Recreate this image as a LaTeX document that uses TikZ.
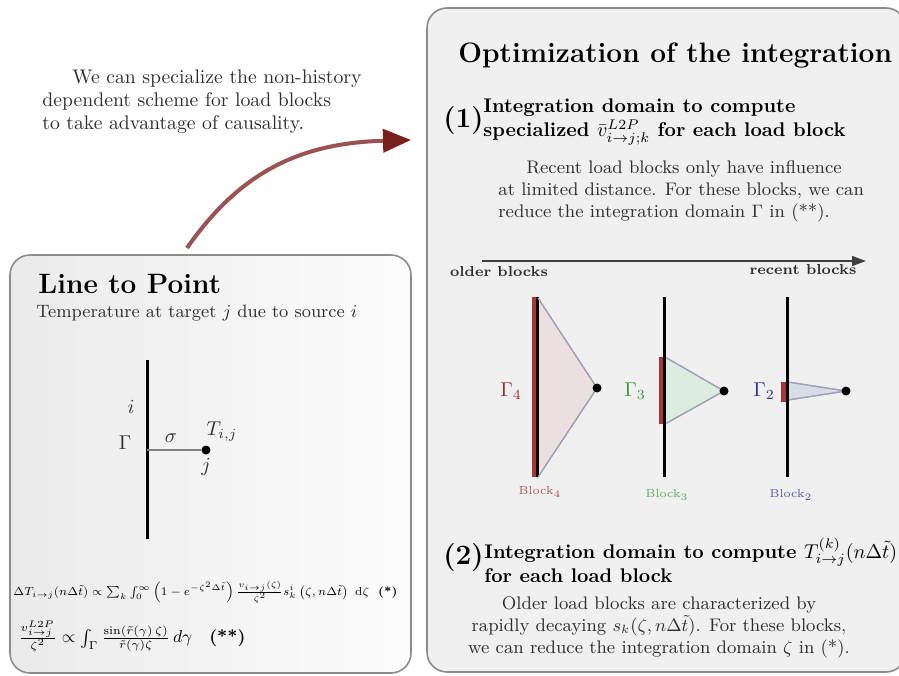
\documentclass[tikz,border=0pt]{standalone}
\usepackage{amsmath}
\usepackage{graphicx}
\usetikzlibrary{arrows.meta}
\definecolor{txt}{HTML}{2E2E2E}
\definecolor{boxline}{HTML}{8C8C8C}
\definecolor{rboxfill}{HTML}{F0F0F0}
\definecolor{arrline}{HTML}{9A5252}
\definecolor{arrhead}{HTML}{7A1E1E}
\definecolor{redbar}{HTML}{A83434}
\definecolor{gred}{HTML}{A03030}
\definecolor{ggreen}{HTML}{3A9A3A}
\definecolor{gblue}{HTML}{30309A}
\definecolor{lred}{HTML}{B05555}
\definecolor{lgreen}{HTML}{55B055}
\definecolor{lblue}{HTML}{5555B0}
\definecolor{tpink}{HTML}{EBDFDF}
\definecolor{tgreen}{HTML}{DCECDF}
\definecolor{tblue}{HTML}{D6DDE6}
\definecolor{tedge}{HTML}{A0A0B8}
\begin{document}
\begin{tikzpicture}[x=0.5pt,y=-0.5pt,
  panel/.style={draw=boxline, line width=0.8pt, rounded corners=10pt},
  bodytxt/.style={text=txt, font=\fontsize{9.1}{11}\selectfont, inner sep=0pt},
  bigbold/.style={font=\fontsize{14}{16}\selectfont\bfseries, inner sep=0pt},
  secbold/.style={font=\fontsize{9.9}{12}\selectfont\bfseries, inner sep=0pt},
  srcline/.style={line width=1.5pt, black},
  bar/.style={fill=redbar, draw=none},
  tri/.style={draw=tedge, line width=0.6pt},
  tgt/.style={circle, fill=black, inner sep=0pt, minimum size=4.5pt},
  lbl/.style={inner sep=0pt},
  gam/.style={inner sep=0pt, font=\fontsize{9.6}{11}\selectfont},
  blk/.style={inner sep=0pt, font=\fontsize{5.8}{7}\selectfont},
  timelbl/.style={inner sep=0pt, text=txt, font=\fontsize{7.2}{9}\selectfont\bfseries}
]
\useasboundingbox (0,0) rectangle (899,675);
\fill[white] (0,0) rectangle (899,675);

% panels
\draw[panel, left color=black!8, right color=black!1] (10,255) rectangle (411,673);
\draw[panel, fill=rboxfill] (427,8) rectangle (906,672);

% top-left text
\node[bodytxt, anchor=north west, align=left, font=\fontsize{9.85}{11.5}\selectfont] (intro) at (42,69)
  {\hspace*{15pt}We can specialize the non-history\\dependent scheme for load blocks\\to take advantage of causality.};

% curved arrow
\coordinate (arrS) at (187,248);
\coordinate (arrE) at (411,140);
\draw[arrline, line width=2pt, -{Triangle[length=14pt,width=11.5pt,color=arrhead]}]
  (arrS) .. controls (240,172) and (300,143) .. (arrE);

% ---------------- Left panel ----------------
\node[bigbold, anchor=west] (ltp) at (38,284) {Line to Point};
\node[bodytxt, anchor=west, font=\fontsize{8.95}{11}\selectfont] (ltpsub) at (36,313) {Temperature at target $j$ due to source $i$};

\coordinate (srcT) at (147,360);
\coordinate (srcB) at (147,539);
\draw[srcline] (srcT) -- (srcB);
\coordinate (srcM) at (147,450);
\node[tgt] (tj) at (206,450) {};
\draw[gray, line width=0.8pt] (srcM) -- (tj);
\node[lbl, text=txt] (li) at (131,407) {$i$};
\node[lbl, text=txt] (lG) at (125,443) {$\Gamma$};
\node[lbl, text=txt] (ls) at (171,438) {$\sigma$};
\node[lbl, text=txt] (lT) at (222,432) {$T_{i,j}$};
\node[lbl, text=txt] (lj) at (206,467) {$j$};

\node[lbl, anchor=west, font=\fontsize{7}{8}\selectfont] (eq1) at (13,592)
  {\resizebox{192pt}{!}{$\Delta T_{i\to j}(n\Delta\tilde t)\propto \sum_k \int_0^\infty \left(1-e^{-\zeta^2\Delta\tilde t}\right)\frac{v_{i\to j}(\zeta)}{\zeta^2}s_k^i\left(\zeta,n\Delta\tilde t\right)\ \mathrm{d}\zeta$\ \ \textbf{(*)}}};
\node[lbl, anchor=west, font=\fontsize{9}{11}\selectfont] (eq2) at (18,636)
  {\resizebox{113.5pt}{!}{$\frac{v^{L2P}_{i\to j}}{\zeta^2}\propto\int_\Gamma \frac{\sin(\tilde r(\gamma)\,\zeta)}{\tilde r(\gamma)\zeta}\,d\gamma$\quad\textbf{(**)}}};

% ---------------- Right panel ----------------
\node[bigbold, anchor=west, font=\fontsize{14.05}{17}\selectfont\bfseries] (opt) at (458,55) {Optimization of the integration};

\node[bigbold, anchor=west] (n1) at (443,121) {(1)};
\node[secbold, anchor=west, align=left, font=\fontsize{9.9}{12}\selectfont\bfseries] (h1) at (483,122)
  {Integration domain to compute\\specialized $\bar v^{L2P}_{i\to j;k}$ for each load block};
\node[bodytxt, anchor=north west, align=left] (p1) at (498,160)
  {\hspace*{14pt}Recent load blocks only have influence\\at limited distance. For these blocks, we can\\reduce the integration domain $\Gamma$ in (**).};

% time arrow
\coordinate (taS) at (482,261);
\coordinate (taE) at (866,261);
\draw[black!75, line width=0.8pt, -{Triangle[length=7pt,width=5pt]}] (taS) -- (taE);
\node[timelbl] (older) at (499,272) {older blocks};
\node[timelbl] (recent) at (803,270) {recent blocks};

% Block 4
\fill[tri, fill=tpink] (538,298) -- (597,388) -- (538,477) -- cycle;
\fill[bar] (532,297) rectangle (536.5,477);
\coordinate (b4T) at (537,297);
\coordinate (b4B) at (537,477);
\draw[srcline] (b4T) -- (b4B);
\draw[tri] (538,298) -- (597,388) -- (538,477);
\node[tgt] (t4) at (597,388) {};
\node[gam, text=gred] (G4) at (511,391) {$\Gamma_4$};
\node[blk, text=lred] (B4) at (540,492) {Block$_4$};

% Block 3
\fill[tri, fill=tgreen] (665,357) -- (724,391) -- (665,424) -- cycle;
\draw[tri] (665,357) -- (724,391) -- (665,424);
\fill[bar] (659,357) rectangle (663.5,424);
\coordinate (b3T) at (664,297);
\coordinate (b3B) at (664,477);
\draw[srcline] (b3T) -- (b3B);
\node[tgt] (t3) at (724,391) {};
\node[gam, text=ggreen] (G3) at (635,391) {$\Gamma_3$};
\node[blk, text=lgreen] (B3) at (667,495) {Block$_3$};

% Block 2
\fill[tri, fill=tblue] (788,382) -- (846,391) -- (788,400) -- cycle;
\draw[tri] (788,382) -- (846,391) -- (788,400);
\fill[bar] (781,382) rectangle (786,402);
\coordinate (b2T) at (787,297);
\coordinate (b2B) at (787,477);
\draw[srcline] (b2T) -- (b2B);
\node[tgt] (t2) at (846,391) {};
\node[gam, text=gblue] (G2) at (764,391) {$\Gamma_2$};
\node[blk, text=lblue] (B2) at (791,495) {Block$_2$};

% Section (2)
\node[bigbold, anchor=west] (n2) at (443,558) {(2)};
\node[secbold, anchor=west, align=left] (h2) at (484,560)
  {Integration domain to compute $T^{(k)}_{i\to j}(n\Delta\tilde t)$\\for each load block};
\node[bodytxt, anchor=north, align=center] (p2) at (659,596)
  {Older load blocks are characterized by\\rapidly decaying $s_k(\zeta,n\Delta\tilde t)$. For these blocks,\\we can reduce the integration domain $\zeta$ in (*).};
\end{tikzpicture}
\end{document}
